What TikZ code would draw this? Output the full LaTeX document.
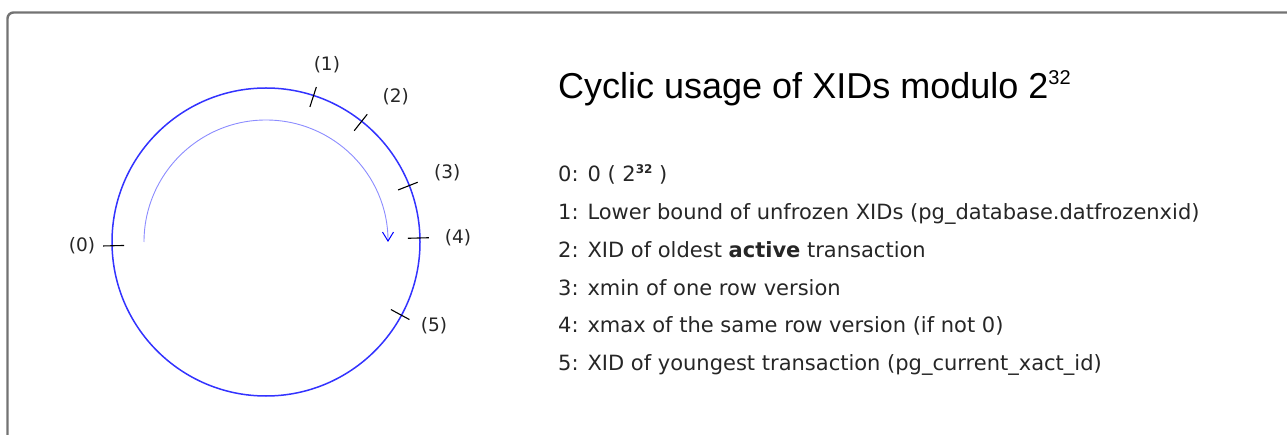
\documentclass[tikz,border=0pt]{standalone}
\usepackage{fontspec}
\setmainfont{DejaVu Sans}
\newfontfamily\titlefont{Liberation Sans}
\usetikzlibrary{arrows.meta,calc}
\tikzstyle{frame} = [draw=black!55, line width=2.4pt, rounded corners=6pt]
\tikzstyle{ring} = [draw=blue!80, line width=1.5pt]
\tikzstyle{turn} = [draw=blue!45, line width=0.9pt, -{Straight Barb[length=9pt, width=11pt, color=blue, line width=1pt]}]
\tikzstyle{tickline} = [draw=black, line width=1.1pt]
\tikzstyle{ticklabel} = [font=\fontsize{18.5}{18.5}\selectfont, inner sep=0pt, text=black!85]
\tikzstyle{legend} = [anchor=base west, font=\fontsize{21}{21}\selectfont, inner sep=0pt, text=black!85]

\begin{document}
\begin{tikzpicture}[x=1pt, y=1pt]
    \useasboundingbox (0,0) rectangle (1287,-435);
    % Rahmen
    \draw[frame] (7.5,-12.5) rectangle (1320,-470);

    % Kreis der XIDs
    \coordinate (c) at (266,-242);
    \draw[ring] (c) circle[radius=154];
    \draw[turn] ($(c)+(180:122)$) arc[start angle=180, end angle=0, radius=122];

    % Markierungen
    \foreach \n/\a/\la/\lr in {0/181.4/181.2/184, 1/72/71/187, 2/51.6/48.3/195,
                               3/21.5/20.9/194, 4/1.5/1.2/192, 5/-28.4/-26.6/188} {
        \coordinate (in\n) at ($(c)+(\a:142)$);
        \coordinate (out\n) at ($(c)+(\a:163)$);
        \draw[tickline] (in\n) -- (out\n);
        \node[ticklabel] (l\n) at ($(c)+(\la:\lr)$) {(\n)};
    }

    % Titel
    \node[anchor=base west, inner sep=0pt, font=\titlefont\fontsize{36}{36}\selectfont]
        (title) at (558,-99) {Cyclic usage of XIDs modulo 2\raisebox{14pt}{\fontsize{20}{20}\selectfont 32}};

    % Legende
    \node[legend] (e0) at (558,-182) {0: 0 ( 2\raisebox{8pt}{\fontsize{12}{12}\selectfont\bfseries 32} )};
    \node[legend] (e1) at (558,-219.7) {1: Lower bound of unfrozen XIDs (pg\_database.datfrozenxid)};
    \node[legend] (e2) at (558,-257.4) {2: XID of oldest \textbf{active} transaction};
    \node[legend] (e3) at (558,-295.1) {3: xmin of one row version};
    \node[legend] (e4) at (558,-332.8) {4: xmax of the same row version (if not 0)};
    \node[legend] (e5) at (558,-370.5) {5: XID of youngest transaction (pg\_current\_xact\_id)};
\end{tikzpicture}
\end{document}
